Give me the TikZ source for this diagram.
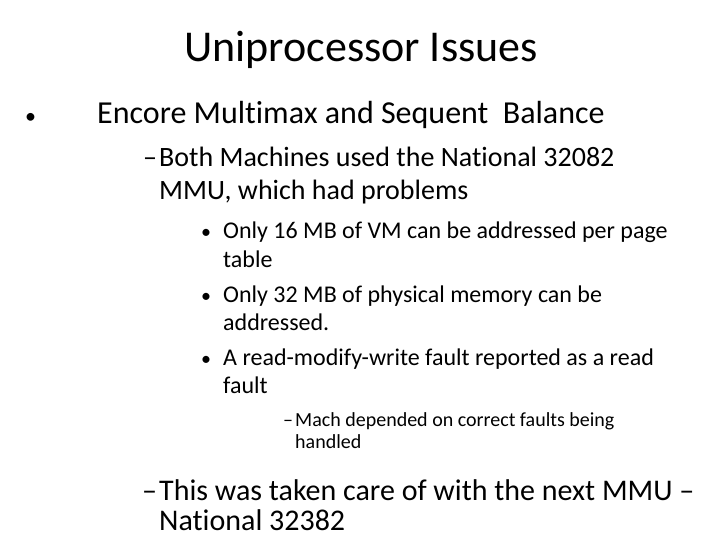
\documentclass[tikz,border=0pt]{standalone}
\usepackage{fontspec}
\setmainfont[RawFeature=-liga]{Carlito}
\begin{document}
\begin{tikzpicture}[x=1pt,y=-1pt,
  t/.style={anchor=base west,inner sep=0pt}]
\useasboundingbox (0,0) rectangle (720,540);
\node[anchor=base,inner sep=0pt,font=\fontsize{44}{48}\selectfont] (title) at (361,62) {Uniprocessor Issues};
\node[t,font=\fontsize{22}{32}\selectfont] (b1) at (25,124) {•};
\node[t,font=\fontsize{32}{36}\selectfont] (l1) at (97,124) {Encore Multimax and Sequent\ \ Balance};
\node[t,font=\fontsize{28}{32}\selectfont] (d1) at (143,167) {–};
\node[t,font=\fontsize{28}{32}\selectfont] (l2a) at (159,167) {Both Machines used the National 32082};
\node[t,font=\fontsize{28}{32}\selectfont] (l2b) at (159,200) {MMU, which had problems};
\node[t,font=\fontsize{20}{24}\selectfont] (b3a) at (201,239) {•};
\node[t,font=\fontsize{24}{28}\selectfont] (l3a) at (223,239) {Only 16 MB of VM can be addressed per page};
\node[t,font=\fontsize{24}{28}\selectfont] (l3b) at (223,267) {table};
\node[t,font=\fontsize{20}{24}\selectfont] (b3b) at (201,302) {•};
\node[t,font=\fontsize{24}{28}\selectfont] (l3c) at (223,302) {Only 32 MB of physical memory can be};
\node[t,font=\fontsize{24}{28}\selectfont] (l3d) at (223,330) {addressed.};
\node[t,font=\fontsize{20}{24}\selectfont] (b3c) at (201,365) {•};
\node[t,font=\fontsize{24}{28}\selectfont] (l3e) at (223,365) {A read-modify-write fault reported as a read};
\node[t,font=\fontsize{24}{28}\selectfont] (l3f) at (223,393) {fault};
\node[t,font=\fontsize{20}{24}\selectfont] (d4) at (283,426) {–};
\node[t,font=\fontsize{20}{24}\selectfont] (l4a) at (295,426) {Mach depended on correct faults being};
\node[t,font=\fontsize{20}{24}\selectfont] (l4b) at (295,448) {handled};
\node[t,font=\fontsize{30}{36}\selectfont] (d5) at (142,500) {–};
\node[t,font=\fontsize{30}{36}\selectfont] (l5a) at (159,500) {This was taken care of with the next MMU –};
\node[t,font=\fontsize{30}{36}\selectfont] (l5b) at (159,530) {National 32382};
\end{tikzpicture}
\end{document}
